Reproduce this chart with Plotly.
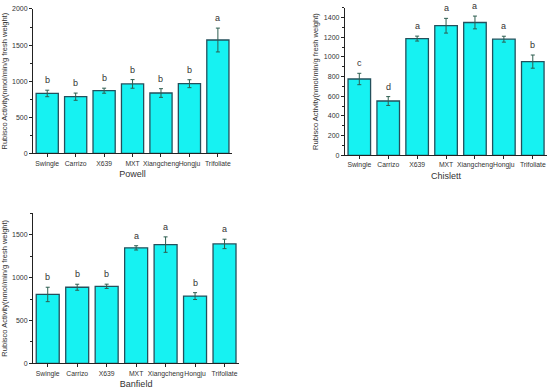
import plotly.graph_objects as go

categories = ["Swingle", "Carrizo", "X639", "MXT", "Xiangcheng", "Hongju", "Trifoliate"]

powell_values = [830, 785, 868, 962, 836, 965, 1570]
powell_errors = [45, 50, 35, 60, 60, 55, 165]
powell_letters = ["b", "b", "b", "b", "b", "b", "a"]

chislett_values = [776, 552, 1187, 1318, 1351, 1181, 953]
chislett_errors = [58, 45, 25, 75, 65, 30, 67]
chislett_letters = ["c", "d", "a", "a", "a", "a", "b"]

banfield_values = [804, 888, 899, 1347, 1385, 785, 1393]
banfield_errors = [84, 35, 25, 25, 90, 40, 55]
banfield_letters = ["b", "b", "b", "a", "a", "b", "a"]

panels = [
    ("Powell", powell_values, powell_errors, powell_letters, "", [0, 2000], 500, 250,
     [0.060, 0.422], [0.610, 0.987]),
    ("Chislett", chislett_values, chislett_errors, chislett_letters, "2", [0, 1500], 200, 100,
     [0.627, 0.995], [0.605, 0.990]),
    ("Banfield", banfield_values, banfield_errors, banfield_letters, "3", [0, 1752], 500, 250,
     [0.060, 0.435], [0.0615, 0.454]),
]

FONT = "Liberation Sans, Arial, sans-serif"
TXT = "#333333"
fig = go.Figure()
layout = {}
annotations = []
for name, vals, errs, letters, ax, yr, dt, mdt, xd, yd in panels:
    xa = "x" + ax
    ya = "y" + ax
    fig.add_trace(go.Bar(
        x=categories, y=vals, xaxis=xa, yaxis=ya, width=0.78,
        marker=dict(color="#16F2F2", line=dict(color="#24505C", width=1.3)),
        error_y=dict(type="data", array=errs, visible=True, color="#2E5E50",
                     thickness=1, width=2),
        showlegend=False, hoverinfo="skip",
    ))
    for c, v, e, t in zip(categories, vals, errs, letters):
        annotations.append(dict(
            x=c, y=v + e, xref=xa, yref=ya, text=t, showarrow=False,
            yanchor="bottom", yshift=3, font=dict(size=9, color=TXT, family=FONT),
        ))
    layout["xaxis" + ax] = dict(
        domain=xd, anchor=ya, range=[-0.5, 6.5], showline=True, linecolor="#222",
        linewidth=1, ticks="outside", ticklen=3, tickcolor="#222",
        tickfont=dict(size=6.8, color=TXT, family=FONT), showgrid=False, zeroline=False,
        title=dict(text=name, font=dict(size=9, color=TXT, family=FONT), standoff=4),
        tickangle=0, fixedrange=True,
    )
    layout["yaxis" + ax] = dict(
        domain=yd, anchor=xa, range=yr, showline=True, linecolor="#222", linewidth=1,
        ticks="outside", ticklen=3, tickcolor="#222", dtick=dt, tick0=0,
        minor=dict(ticks="outside", ticklen=2, dtick=mdt, tickcolor="#222"),
        tickfont=dict(size=7, color=TXT, family=FONT), showgrid=False, zeroline=False,
        title=dict(text="Rubisco Activity(nmol/min/g fresh weight)",
                   font=dict(size=7.5, color=TXT, family=FONT), standoff=4),
        fixedrange=True,
    )

fig.update_layout(
    width=550, height=390, margin=dict(l=0, r=0, t=0, b=0),
    paper_bgcolor="white", plot_bgcolor="white", bargap=0.2,
    font=dict(family=FONT, color=TXT), annotations=annotations,
    **layout,
)
fig.write_html("out.html", config={"displayModeBar": False},
               post_script="document.body.style.margin='0';document.body.style.padding='0';")
